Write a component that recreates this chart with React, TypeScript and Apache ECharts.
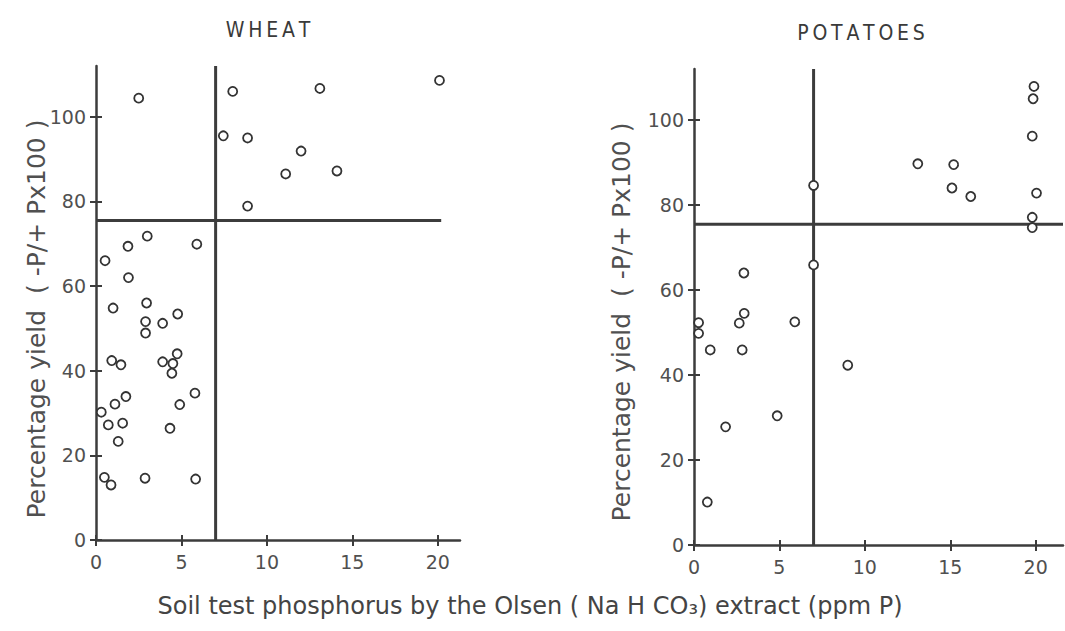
import React, { useEffect, useRef } from "react";
import * as echarts from "echarts";

const wheatX = [2.5, 8.0, 7.45, 8.87, 8.87, 3.0, 1.87, 5.9, 0.53, 1.9, 13.1, 20.1, 12.0, 11.1, 14.1, 1.0, 2.96, 2.9, 2.9, 3.9, 4.78, 0.92, 1.46, 3.9, 4.75, 4.5, 4.44, 5.79, 1.75, 1.11, 4.9, 0.31, 0.72, 1.56, 4.33, 1.3, 0.49, 0.88, 2.87, 5.83];
const wheatY = [104.4, 106, 95.5, 95, 78.9, 71.8, 69.4, 69.9, 66, 62, 106.7, 108.6, 91.9, 86.5, 87.2, 54.8, 56, 51.6, 48.9, 51.2, 53.4, 42.4, 41.4, 42.1, 44, 41.7, 39.4, 34.7, 33.9, 32.1, 32, 30.2, 27.2, 27.6, 26.4, 23.3, 14.8, 13, 14.6, 14.4];

const potatoX = [0.27, 0.27, 0.95, 2.65, 2.94, 2.82, 5.9, 9.0, 4.87, 1.85, 0.78, 2.92, 7.0, 7.0, 19.9, 19.85, 19.8, 13.1, 15.2, 15.1, 16.2, 20.05, 19.8, 19.8];
const potatoY = [52.3, 49.8, 45.9, 52.2, 54.5, 45.9, 52.5, 42.3, 30.4, 27.8, 10.1, 64, 84.6, 65.9, 107.9, 105, 96.2, 89.7, 89.5, 84, 82, 82.8, 77.1, 74.7];

const xTicks = [0, 5, 10, 15, 20];
const yTicks = [0, 20, 40, 60, 80, 100];

const criticalP = 7;
const criticalYield = 75.5;
const wheatHLineEnd = 20.2;
const wheatXMax = 21.3;
const potatoXMax = 21.6;
const yMax = 112;

const titles = ["W\u2009H\u2009E\u2009A\u2009T", "P\u2009O\u2009T\u2009A\u2009T\u2009O\u2009E\u2009S"];
const yName = "Percentage yield  ( -P/+ Px100 )";
const xName = "Soil test phosphorus by the Olsen ( Na H CO\u2083) extract (ppm P)";

const INK = "#3c3c3c";
const TXT = "#505050";
const FONT = "DejaVu Sans";

function xAxes(gridIndex: number, max: number) {
  const base = {
    type: "value" as const,
    gridIndex,
    min: 0,
    max,
    splitLine: { show: false },
  };
  return [
    {
      ...base,
      axisLine: { show: true, lineStyle: { color: INK, width: 2.5 } },
      axisTick: { show: true, length: 6, customValues: xTicks, lineStyle: { color: INK, width: 2 } },
      axisLabel: { customValues: xTicks, margin: 12, color: TXT, fontSize: 19, fontFamily: FONT },
    },
    {
      ...base,
      position: "bottom" as const,
      axisLine: { show: false },
      axisTick: { show: true, inside: true, length: 5, customValues: xTicks, lineStyle: { color: INK, width: 2 } },
      axisLabel: { show: false },
    },
  ];
}

function yAxes(gridIndex: number) {
  const base = {
    type: "value" as const,
    gridIndex,
    min: 0,
    max: yMax,
    splitLine: { show: false },
  };
  return [
    {
      ...base,
      axisLine: { show: true, lineStyle: { color: INK, width: 2.5 } },
      axisTick: { show: true, length: 6, customValues: yTicks, lineStyle: { color: INK, width: 2 } },
      axisLabel: { customValues: yTicks, margin: 10, color: TXT, fontSize: 19, fontFamily: FONT },
    },
    {
      ...base,
      position: "left" as const,
      axisLine: { show: false },
      axisTick: { show: true, inside: true, length: 6, customValues: yTicks, lineStyle: { color: INK, width: 2 } },
      axisLabel: { show: false },
    },
  ];
}

const pairs = (xs: number[], ys: number[]) => xs.map((x, i) => [x, ys[i]]);

export default function App() {
  const ref = useRef<HTMLDivElement>(null);
  useEffect(() => {
    if (!ref.current) return;
    const chart = echarts.init(ref.current, undefined, { renderer: "svg" });
    const scatterStyle = {
      type: "scatter" as const,
      symbol: "circle",
      symbolSize: 9,
      itemStyle: { color: "#ffffff", borderColor: "#333333", borderWidth: 1.8, opacity: 1 },
      z: 5,
    };
    const lineStyle = {
      type: "line" as const,
      symbol: "none",
      lineStyle: { color: INK, width: 3 },
      z: 3,
    };
    const titleFont = `21px "DejaVu Sans Condensed", "DejaVu Sans"`;
    chart.setOption({
      animation: false,
      backgroundColor: "#ffffff",
      grid: [
        { left: 96, top: 66, width: 364, height: 474 },
        { left: 694, top: 69, width: 369, height: 476 },
      ],
      xAxis: [...xAxes(0, wheatXMax), ...xAxes(1, potatoXMax)],
      yAxis: [...yAxes(0), ...yAxes(1)],
      series: [
        { ...lineStyle, xAxisIndex: 0, yAxisIndex: 0, data: [[criticalP, 0], [criticalP, yMax]] },
        { ...lineStyle, xAxisIndex: 0, yAxisIndex: 0, data: [[0, criticalYield], [wheatHLineEnd, criticalYield]] },
        { ...lineStyle, xAxisIndex: 2, yAxisIndex: 2, data: [[criticalP, 0], [criticalP, yMax]] },
        { ...lineStyle, xAxisIndex: 2, yAxisIndex: 2, data: [[0, criticalYield], [potatoXMax, criticalYield]] },
        { ...scatterStyle, xAxisIndex: 0, yAxisIndex: 0, data: pairs(wheatX, wheatY) },
        { ...scatterStyle, xAxisIndex: 2, yAxisIndex: 2, data: pairs(potatoX, potatoY) },
      ],
      graphic: [
        {
          type: "text", x: 268, y: 30,
          style: { text: titles[0], font: titleFont, fill: "#3a3a3a", align: "center", verticalAlign: "middle" },
        },
        {
          type: "text", x: 861, y: 33,
          style: { text: titles[1], font: titleFont, fill: "#3a3a3a", align: "center", verticalAlign: "middle" },
        },
        {
          type: "text", x: 36, y: 319, rotation: Math.PI / 2,
          style: { text: yName, font: `25px "DejaVu Sans"`, fill: TXT, align: "center", verticalAlign: "middle" },
        },
        {
          type: "text", x: 621, y: 322, rotation: Math.PI / 2,
          style: { text: yName, font: `25px "DejaVu Sans"`, fill: TXT, align: "center", verticalAlign: "middle" },
        },
        {
          type: "text", x: 530, y: 606,
          style: { text: xName, font: `24px "DejaVu Sans"`, fill: "#444", align: "center", verticalAlign: "middle" },
        },
      ],
    });
    return () => chart.dispose();
  }, []);
  return (
    <div
      ref={ref}
      style={{ position: "fixed", left: 0, top: 0, width: 1065, height: 631, background: "#fff" }}
    />
  );
}
